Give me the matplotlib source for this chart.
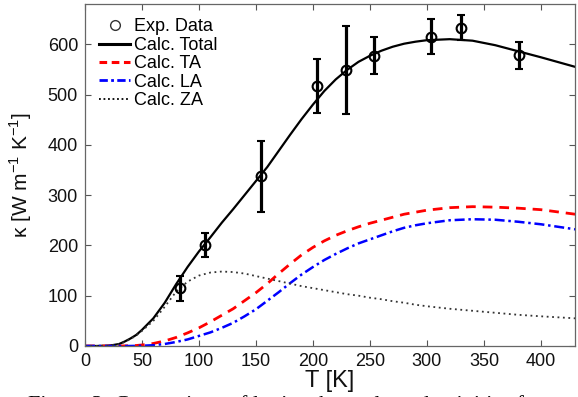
import matplotlib
matplotlib.use('Agg')
from matplotlib import pyplot as plt
from matplotlib.lines import Line2D
import numpy as np

plt.rcParams['font.family'] = ['Liberation Sans', 'DejaVu Sans']
plt.rcParams['mathtext.fontset'] = 'custom'
plt.rcParams['mathtext.rm'] = 'Liberation Sans'

# experimental points
t_exp = [83, 105, 154, 204, 229, 254, 304, 330, 381]
k_exp = [115, 201, 337, 517, 549, 577, 615, 633, 578]
k_err = [25, 24, 71, 53, 88, 37, 35, 25, 27]

# calculated curves
t_calc = [0, 10, 20, 25, 30, 35, 40, 45, 50, 60, 70, 80, 90, 100, 110, 120,
          130, 140, 150, 160, 170, 180, 190, 200, 210, 220, 230, 240, 250,
          260, 270, 280, 290, 300, 320, 340, 360, 380, 400, 430]
k_total = [0, 0, 0.5, 2, 4, 9, 15, 22, 32, 55, 86, 123, 157, 188, 216, 245,
           272, 300, 328, 356, 388, 420, 451, 480, 507, 530, 549, 565, 577,
           587, 595, 601, 605, 608, 610, 607, 598, 586, 574, 555]
k_ta = [0, 0, 0, 0, 0, 0.2, 0.5, 1, 2, 5, 10, 17, 26, 36, 48, 61,
        74, 90, 106, 124, 144, 163, 181, 196, 209, 220, 229, 237, 244,
        250, 256, 262, 266, 270, 275, 277, 276, 274, 271, 262]
k_la = [0, 0, 0, 0, 0, 0, 0, 0.2, 0.5, 1.5, 4, 8, 13, 20, 27, 36,
        46, 59, 73, 90, 107, 125, 142, 157, 171, 183, 194, 204, 212,
        220, 228, 235, 240, 244, 250, 252, 251, 247, 242, 232]
k_za = [0, 0, 0.5, 2, 4, 8, 14, 21, 30, 50, 78, 108, 128, 140, 146, 148,
        147, 144, 139, 134, 129, 124, 119, 115, 111, 107, 103, 100, 96,
        93, 89, 86, 82, 79, 74, 70, 66, 62, 59, 55]

fig = plt.figure(figsize=(5.78, 3.97), dpi=100)
ax = fig.add_axes([0.147, 0.1285, 0.848, 0.8615])

ax.errorbar(t_exp, k_exp, yerr=k_err, fmt='o', color='k', mfc='none',
            mec='k', ms=7, mew=1.5, elinewidth=2.3, capsize=3, capthick=2.3,
            zorder=5)
ax.plot(t_calc, k_total, '-', color='k', lw=1.6)
ax.plot(t_calc, k_ta, '--', color='#ff0000', lw=2, dashes=(3.5, 2.5))
ax.plot(t_calc, k_la, '-.', color='#0000ff', lw=1.8, dashes=(4, 1.5, 1, 1.5))
ax.plot(t_calc, k_za, ':', color='#333333', lw=1.3, dashes=(1, 2))

ax.set_xlim(0, 430)
ax.set_ylim(0, 680)
ax.set_xticks(np.arange(0, 401, 50))
ax.set_yticks(np.arange(0, 601, 100))
ax.tick_params(direction='in', top=True, right=True, length=4, width=0.8,
               labelsize=13, pad=5, colors='#555555', labelcolor='#111111')
for s in ax.spines.values():
    s.set_color('#666666')
    s.set_linewidth(0.9)

ax.set_xlabel('T [K]', fontsize=17, labelpad=0, color='#111111')
ax.set_ylabel(r'κ [W m$^{-1}$ K$^{-1}$]', fontsize=15, color='#111111')
ax.yaxis.set_label_coords(-0.104, 0.5)

handles = [
    Line2D([], [], ls='none', marker='o', mfc='none', mec='#333333', ms=7, mew=1.0),
    Line2D([], [], color='k', lw=2.2),
    Line2D([], [], color='#ff0000', lw=2.2, ls='--', dashes=(2.5, 1.5)),
    Line2D([], [], color='#0000ff', lw=2.0, dashes=(3, 1.2, 1, 1.2)),
    Line2D([], [], color='k', lw=1.3, dashes=(1, 1.5)),
]
labels = ['Exp. Data', 'Calc. Total', 'Calc. TA', 'Calc. LA', 'Calc. ZA']
ax.legend(handles, labels, loc='upper left', bbox_to_anchor=(0.0, 1.0),
          frameon=False, fontsize=13, handlelength=1.7, handletextpad=0.2,
          labelspacing=0.08, borderaxespad=0.4)

fig.text(0.048, -0.046, 'Figure 3: Comparison of lattice thermal conductivities fo',
         fontsize=16, family='Liberation Serif', va='bottom', ha='left')

fig.savefig('out.png', dpi=100)
